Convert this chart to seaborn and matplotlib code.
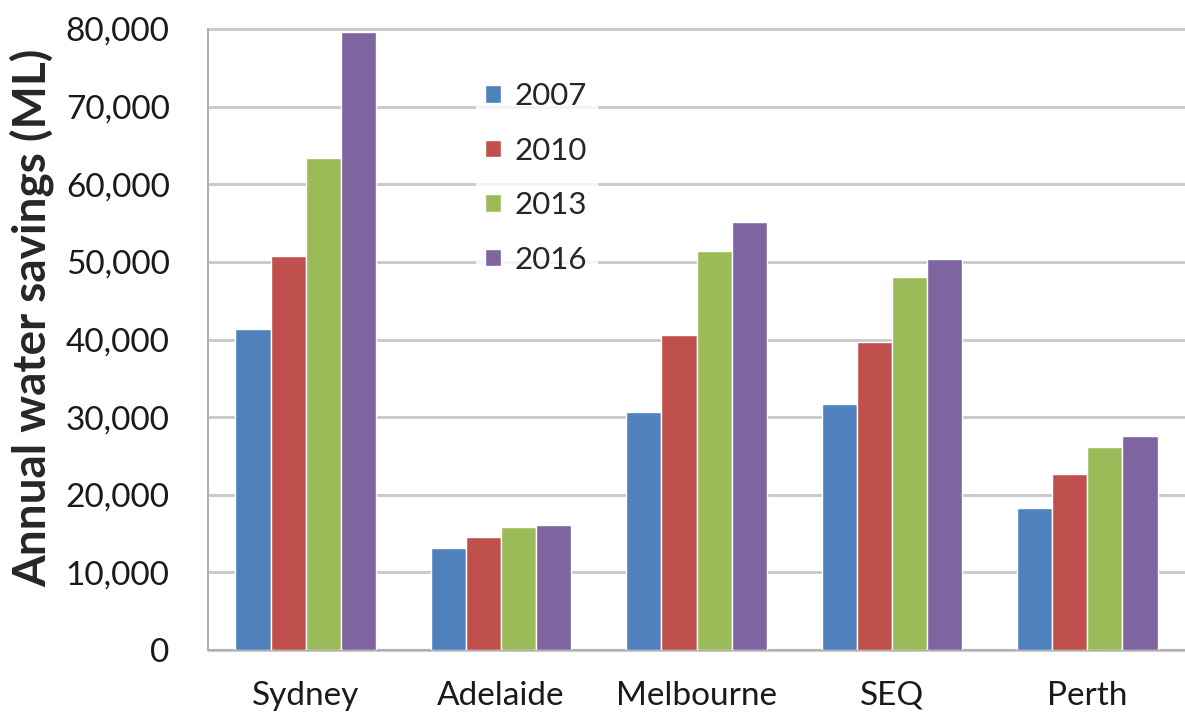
import pandas as pd
import matplotlib.pyplot as plt
import seaborn as sns
from matplotlib.ticker import FuncFormatter, FixedLocator

# Data
cities = ["Sydney", "Adelaide", "Melbourne", "SEQ", "Perth"]
years = ["2007", "2010", "2013", "2016"]
savings_2007 = [41400, 13100, 30600, 31750, 18250]
savings_2010 = [50700, 14500, 40600, 39700, 22650]
savings_2013 = [63400, 15900, 51400, 48100, 26200]
savings_2016 = [79600, 16150, 55100, 50350, 27550]
colors = ["#4F81BD", "#C0504D", "#9BBB59", "#8064A2"]

rows = []
for year, vals in zip(years, [savings_2007, savings_2010, savings_2013, savings_2016]):
    for city, v in zip(cities, vals):
        rows.append({"City": city, "Year": year, "Savings": v})
df = pd.DataFrame(rows)

sns.set_style("white")
plt.rcParams["font.family"] = ["Lato", "DejaVu Sans"]

fig = plt.figure(figsize=(11.85, 7.18), dpi=100)
ax = fig.add_axes([208 / 1185, 1 - 650 / 718, 1 - 208 / 1185, 621 / 718])

sns.barplot(data=df, x="City", y="Savings", hue="Year", palette=colors,
            width=0.72, gap=0, saturation=1, ax=ax, zorder=3)

ax.set_ylim(0, 80000)
ax.set_xlim(-0.5, 4.5)
ax.yaxis.set_major_locator(FixedLocator(range(0, 80001, 10000)))
ax.yaxis.set_major_formatter(FuncFormatter(lambda v, p: f"{int(v):,}"))
ax.grid(axis="y", color="#C8C8C8", linewidth=2, zorder=0)
for gl in ax.get_ygridlines():
    gl.set_clip_on(False)

for side in ["top", "right"]:
    ax.spines[side].set_visible(False)
for side in ["left", "bottom"]:
    ax.spines[side].set_color("#B0B0B0")
    ax.spines[side].set_linewidth(1.5)

ax.tick_params(axis="y", direction="out", length=8.6, width=1.5, color="#B0B0B0",
               pad=19, labelsize=24, labelcolor="#1a1a1a")
ax.tick_params(axis="x", which="major", length=0, pad=22, labelsize=24,
               labelcolor="#1a1a1a")
ax.set_xticks([-0.5, 0.5, 1.5, 2.5, 3.5, 4.5], minor=True)
ax.tick_params(axis="x", which="minor", direction="out", length=8, width=1.5,
               color="#B0B0B0")

ax.set_xlabel("")
ax.set_ylabel("Annual water savings (ML)", fontsize=33, fontweight="bold")
ax.yaxis.set_label_coords(-0.157, 0.535)

leg = ax.legend(loc="upper left", bbox_to_anchor=(0.258, 0.955), frameon=True,
                fontsize=22.5, handlelength=0.5, handleheight=0.5,
                handletextpad=0.45, labelspacing=0.85, borderpad=0.3,
                title=None)
leg.get_frame().set_facecolor("white")
leg.get_frame().set_edgecolor("white")
leg.set_zorder(5)

fig.savefig("out.png", dpi=100)
